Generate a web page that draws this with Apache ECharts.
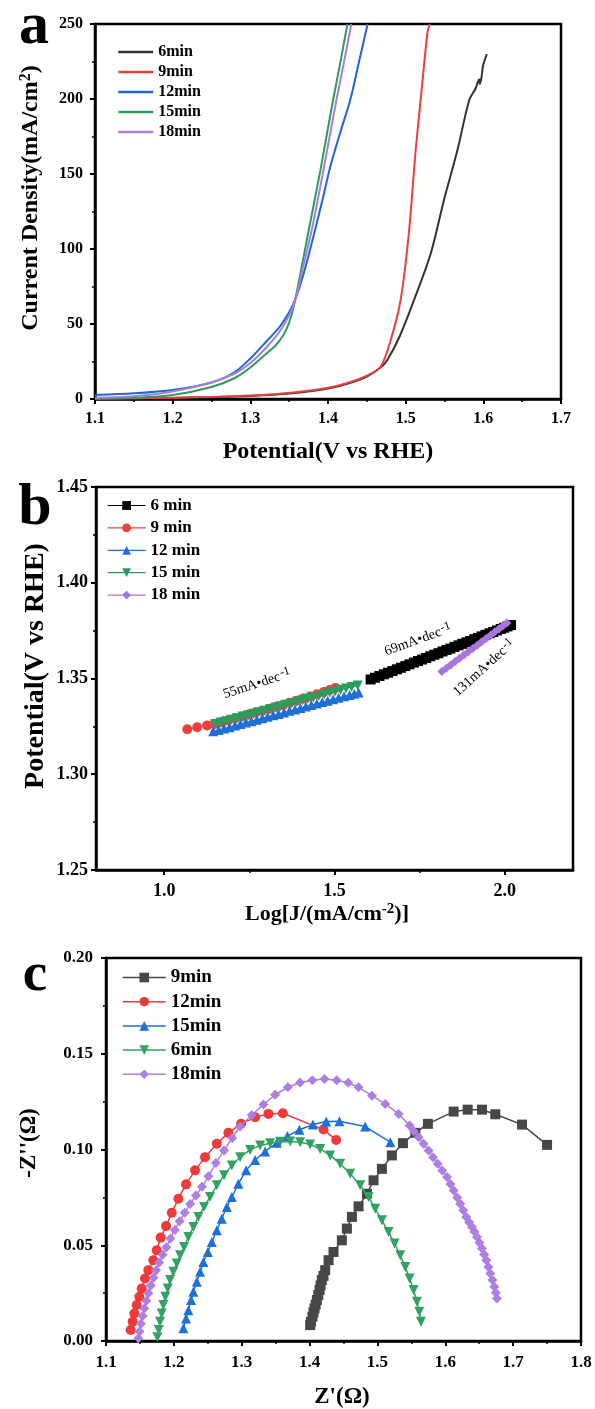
<!DOCTYPE html>
<html><head><meta charset="utf-8">
<script src="https://cdn.jsdelivr.net/npm/echarts@6/dist/echarts.min.js"></script>
<style>html,body{margin:0;padding:0;background:#fff}#c{width:595px;height:1409px}</style>
</head><body><div id="c"></div>
<script>
const FONT = '"Liberation Serif","Times New Roman",serif';

// ---------- Panel a : LSV ----------
const lsvNames = ['6min','9min','12min','15min','18min'];
const lsv6 = [[1.10,0.2],[1.15,0.4],[1.20,0.7],[1.25,1.2],[1.30,2.0],[1.35,3.6],[1.40,7.0],[1.43,11],[1.45,15],[1.4677,21],[1.4764,26],[1.4925,42],[1.5108,66],[1.5323,97],[1.5495,133],[1.5667,166],[1.5817,199],[1.5900,207],[1.5946,213],[1.5955,210],[1.5975,214],[1.5995,222],[1.6025,227],[1.6045,230]];
const lsv9 = [[1.10,0.3],[1.15,0.5],[1.20,0.9],[1.25,1.4],[1.30,2.3],[1.35,4.0],[1.40,7.5],[1.43,11.5],[1.45,15.5],[1.4677,21.5],[1.4806,39],[1.4935,66],[1.504,110],[1.5129,166],[1.5215,211],[1.528,244],[1.531,250]];
const lsv12 = [[1.10,2.7],[1.15,3.8],[1.20,6],[1.25,11],[1.28,18],[1.30,27],[1.32,38],[1.339,49],[1.356,64],[1.37,86],[1.382,110],[1.393,133],[1.403,155],[1.416,178],[1.429,200],[1.44,225],[1.451,250]];
const lsv15 = [[1.10,0.2],[1.15,0.8],[1.20,2.7],[1.25,8],[1.28,14],[1.30,21],[1.32,30],[1.333,36],[1.343,43],[1.350,51],[1.356,62],[1.365,85],[1.375,112],[1.390,152],[1.405,195],[1.415,222],[1.425,250]];
const lsv18 = [[1.10,0.8],[1.15,1.8],[1.20,5],[1.25,11],[1.28,17],[1.30,24],[1.32,34],[1.339,46],[1.356,63],[1.368,88],[1.380,115],[1.395,155],[1.410,197],[1.420,223],[1.430,250]];
const lsvColors = ['#333333','#e8403f','#2166d2','#2f9b5b','#a57fe0'];

// ---------- Panel b : Tafel ----------
const tafNames = ['6 min','9 min','12 min','15 min','18 min'];
const taf6 = [[1.606,1.3495],[1.619,1.3504],[1.632,1.3513],[1.645,1.3522],[1.657,1.3530],[1.670,1.3539],[1.683,1.3548],[1.695,1.3556],[1.708,1.3565],[1.720,1.3574],[1.733,1.3583],[1.745,1.3591],[1.757,1.3599],[1.769,1.3607],[1.781,1.3616],[1.793,1.3624],[1.805,1.3632],[1.817,1.3641],[1.829,1.3649],[1.840,1.3656],[1.852,1.3665],[1.864,1.3673],[1.875,1.3681],[1.887,1.3689],[1.898,1.3696],[1.910,1.3705],[1.921,1.3712],[1.932,1.3720],[1.943,1.3728],[1.955,1.3736],[1.966,1.3743],[1.977,1.3751],[1.988,1.3759],[1.998,1.3765],[2.008,1.3772],[2.018,1.3779]];
const taf9 = [[1.068,1.3235],[1.097,1.3245],[1.126,1.3255],[1.148,1.3263],[1.168,1.3272],[1.188,1.3282],[1.208,1.3292],[1.228,1.3302],[1.248,1.3312],[1.268,1.3322],[1.288,1.3332],[1.308,1.3342],[1.328,1.3352],[1.348,1.3362],[1.368,1.3373],[1.388,1.3384],[1.408,1.3395],[1.428,1.3406],[1.448,1.3418],[1.468,1.3429],[1.486,1.3440],[1.503,1.3451]];
const taf12 = [[1.144,1.3224],[1.160,1.3231],[1.176,1.3239],[1.192,1.3246],[1.208,1.3254],[1.224,1.3262],[1.240,1.3270],[1.256,1.3277],[1.272,1.3285],[1.288,1.3293],[1.304,1.3300],[1.320,1.3308],[1.336,1.3315],[1.352,1.3323],[1.368,1.3331],[1.384,1.3338],[1.400,1.3346],[1.416,1.3354],[1.432,1.3361],[1.448,1.3369],[1.464,1.3377],[1.480,1.3384],[1.496,1.3392],[1.512,1.3399],[1.528,1.3407],[1.544,1.3414],[1.558,1.3421],[1.571,1.3427]];
const taf15 = [[1.150,1.3262],[1.166,1.3270],[1.182,1.3277],[1.198,1.3285],[1.214,1.3293],[1.230,1.3301],[1.246,1.3308],[1.262,1.3316],[1.278,1.3324],[1.294,1.3332],[1.310,1.3339],[1.326,1.3347],[1.342,1.3355],[1.358,1.3363],[1.374,1.3370],[1.390,1.3378],[1.406,1.3386],[1.422,1.3394],[1.438,1.3401],[1.454,1.3409],[1.470,1.3417],[1.486,1.3425],[1.502,1.3432],[1.518,1.3440],[1.534,1.3448],[1.550,1.3456],[1.568,1.3464]];
const taf18 = [[1.815,1.3537],[1.828,1.3554],[1.841,1.3571],[1.854,1.3589],[1.867,1.3606],[1.880,1.3623],[1.893,1.3640],[1.906,1.3657],[1.919,1.3674],[1.932,1.3692],[1.945,1.3709],[1.958,1.3726],[1.970,1.3743],[1.982,1.3759],[1.994,1.3774],[2.006,1.3790]];
const tafColors = ['#000000','#ee4040','#1f6fd6','#2a9d5c','#a577dc'];
const tafSymbols = ['rect','circle','triangle','triangle','diamond'];
const tafRot = [0,0,0,180,0];
const tafXTicks = [1.0,1.5,2.0];
const tafXMinor = [1.25,1.75];
const tafSlopes = ['55','69','131'];

// ---------- Panel c : Nyquist ----------
const eisNames = ['9min','12min','15min','6min','18min'];
const eis9 = [[1.4009,0.0083],[1.4020,0.0100],[1.4043,0.0127],[1.4058,0.0150],[1.4073,0.0170],[1.4090,0.0190],[1.4108,0.0214],[1.4128,0.0240],[1.4147,0.0266],[1.4162,0.0290],[1.4180,0.0318],[1.4205,0.0340],[1.4230,0.0370],[1.4280,0.0422],[1.4353,0.0465],[1.4476,0.0526],[1.4550,0.0587],[1.4624,0.0648],[1.4722,0.0703],[1.4845,0.0769],[1.4943,0.0839],[1.5066,0.0899],[1.5213,0.0969],[1.5376,0.1033],[1.5558,0.1087],[1.5744,0.1134],[1.6123,0.1198],[1.6330,0.1208],[1.6541,0.1208],[1.6737,0.1184],[1.7131,0.1130],[1.7500,0.1024]];
const eis12 = [[1.1364,0.0057],[1.1393,0.0101],[1.1418,0.0144],[1.1452,0.0188],[1.1492,0.0231],[1.1526,0.0274],[1.1575,0.0326],[1.1624,0.0370],[1.1698,0.0422],[1.1747,0.0474],[1.1806,0.0540],[1.1885,0.0600],[1.1969,0.0670],[1.2067,0.0743],[1.2180,0.0818],[1.2313,0.0891],[1.2460,0.0960],[1.2633,0.1030],[1.2804,0.1087],[1.2991,0.1134],[1.3198,0.1168],[1.3394,0.1186],[1.3606,0.1189],[1.4206,0.1104],[1.4392,0.1050]];
const eis15 = [[1.2140,0.0066],[1.2180,0.0118],[1.2214,0.0161],[1.2254,0.0214],[1.2288,0.0257],[1.2338,0.0309],[1.2386,0.0361],[1.2435,0.0413],[1.2500,0.0465],[1.2559,0.0517],[1.2633,0.0578],[1.2706,0.0639],[1.2780,0.0700],[1.2854,0.0752],[1.2951,0.0821],[1.3065,0.0891],[1.3198,0.0945],[1.3345,0.0990],[1.3518,0.1035],[1.3674,0.1070],[1.3850,0.1103],[1.4050,0.1130],[1.4245,0.1146],[1.4440,0.1147],[1.4820,0.1120],[1.5190,0.1038]];
const eis6 = [[1.1757,0.0019],[1.1777,0.0057],[1.1796,0.0101],[1.1821,0.0144],[1.1845,0.0188],[1.1875,0.0231],[1.1910,0.0274],[1.1944,0.0318],[1.1993,0.0361],[1.2042,0.0405],[1.2091,0.0448],[1.2150,0.0491],[1.2214,0.0543],[1.2288,0.0595],[1.2361,0.0648],[1.2445,0.0700],[1.2534,0.0752],[1.2633,0.0813],[1.2740,0.0865],[1.2854,0.0917],[1.2976,0.0960],[1.3124,0.0998],[1.3271,0.1021],[1.3419,0.1033],[1.3566,0.1040],[1.3714,0.1042],[1.3861,0.1038],[1.4009,0.1026],[1.4156,0.1003],[1.4304,0.0969],[1.4451,0.0925],[1.4599,0.0873],[1.4746,0.0813],[1.4869,0.0752],[1.4968,0.0691],[1.5066,0.0630],[1.5164,0.0569],[1.5253,0.0509],[1.5336,0.0448],[1.5410,0.0387],[1.5474,0.0326],[1.5533,0.0266],[1.5582,0.0205],[1.5617,0.0153],[1.5641,0.0100]];
const eis18 = [[1.1477,0.0014],[1.1495,0.0050],[1.1515,0.0090],[1.1540,0.0130],[1.1565,0.0170],[1.1595,0.0210],[1.1625,0.0250],[1.1660,0.0290],[1.1700,0.0330],[1.1740,0.0370],[1.1785,0.0410],[1.1835,0.0450],[1.1890,0.0490],[1.1950,0.0535],[1.2015,0.0580],[1.2085,0.0625],[1.2160,0.0670],[1.2240,0.0715],[1.2325,0.0760],[1.2415,0.0805],[1.2510,0.0860],[1.2620,0.0930],[1.2740,0.0995],[1.2860,0.1060],[1.2976,0.1120],[1.3149,0.1180],[1.3320,0.1235],[1.3493,0.1286],[1.3680,0.1325],[1.3861,0.1350],[1.4040,0.1362],[1.4220,0.1368],[1.4400,0.1362],[1.4570,0.1348],[1.4722,0.1325],[1.4919,0.1281],[1.5115,0.1238],[1.5312,0.1186],[1.5474,0.1125],[1.5535,0.1095],[1.5607,0.1064],[1.5680,0.1030],[1.5754,0.0995],[1.5820,0.0960],[1.5887,0.0925],[1.5955,0.0890],[1.6025,0.0856],[1.6075,0.0820],[1.6123,0.0786],[1.6175,0.0750],[1.6221,0.0717],[1.6265,0.0683],[1.6310,0.0648],[1.6352,0.0620],[1.6394,0.0595],[1.6430,0.0570],[1.6467,0.0543],[1.6504,0.0513],[1.6541,0.0483],[1.6573,0.0452],[1.6605,0.0422],[1.6635,0.0387],[1.6664,0.0352],[1.6694,0.0318],[1.6723,0.0283],[1.6745,0.0252],[1.6762,0.0222]];
const eisColors = ['#474747','#ee3a3a','#1c6fdf','#33a163','#ad7fe3'];
const eisSymbols = ['rect','circle','triangle','triangle','diamond'];
const eisRot = [0,0,0,180,0];

// ---------- build ----------
function mkAxis(gridIndex, min, max, interval, fmt, fs, margin, extra) {
  const ax = {
    type:'value', gridIndex, min, max, interval,
    axisLine:{show:true,onZero:false,lineStyle:{color:'#000',width:2.5}},
    axisTick:{show:true,inside:false,length:5,lineStyle:{color:'#000',width:2}},
    minorTick:{show:true,splitNumber:2,length:3,lineStyle:{color:'#000',width:1.5}},
    splitLine:{show:false}, minorSplitLine:{show:false},
    axisLabel:{color:'#000',fontFamily:FONT,fontWeight:'bold',fontSize:fs,margin:margin,formatter:fmt}
  };
  return Object.assign(ax, extra || {});
}

const series = [];
const lsvData = [lsv6,lsv9,lsv12,lsv15,lsv18];
lsvData.forEach((d,i)=>{
  series.push({name:'a:'+lsvNames[i], type:'line', xAxisIndex:0, yAxisIndex:0, data:d,
    smooth:0.3, showSymbol:false, symbol:'circle', lineStyle:{color:lsvColors[i],width:2}, itemStyle:{color:lsvColors[i]}, z:2+i});
});
const tafData = [taf6,taf9,taf12,taf15,taf18];
const tafSize = [10,10,10,10,9];
tafData.forEach((d,i)=>{
  series.push({name:tafNames[i], type:'line', xAxisIndex:1, yAxisIndex:1, data:d,
    symbol:tafSymbols[i], symbolRotate:tafRot[i], symbolSize:tafSize[i],
    lineStyle:{color:tafColors[i],width:1}, itemStyle:{color:tafColors[i]}, z:2+i});
});
const eisData = [eis9,eis12,eis15,eis6,eis18];
eisData.forEach((d,i)=>{
  series.push({name:'c:'+eisNames[i], type:'line', xAxisIndex:2, yAxisIndex:2, data:d,
    symbol:eisSymbols[i], symbolRotate:eisRot[i], symbolSize:10,
    lineStyle:{color:eisColors[i],width:1.5}, itemStyle:{color:eisColors[i]}, z:2+i});
});

const legendText = (size)=>({color:'#000',fontFamily:FONT,fontWeight:'bold',fontSize:size});

const supRich = (main, sup) => ({
  m:{fontFamily:FONT,fontWeight:'bold',fontSize:main,fill:'#000',lineHeight:main+2},
  s:{fontFamily:FONT,fontWeight:'bold',fontSize:sup,fill:'#000',verticalAlign:'top',padding:[0,0,8,0]}
});
function tText(x,y,text,size,rot,rich){
  return {type:'text', x, y, rotation:rot||0, z:100,
    style:{text, fill:'#000', font:'bold '+size+'px '+FONT, align:'center', verticalAlign:'middle', rich}};
}
function slopeText(x,y,val,rotDeg){
  return {type:'text', x, y, rotation:rotDeg*Math.PI/180, z:100,
    style:{text:'{m|'+val+'mA•dec}{s|-1}', align:'center', verticalAlign:'middle',
      rich:{m:{fontFamily:FONT,fontSize:14,fill:'#000',lineHeight:16},
            s:{fontFamily:FONT,fontSize:12,fill:'#000',verticalAlign:'top',padding:[0,0,6,1]}}}};
}

const option = {
  animation:false,
  backgroundColor:'#fff',
  grid:[
    {left:95, top:24, width:466, height:375, show:true, borderColor:'#000', borderWidth:2.5, backgroundColor:'transparent'},
    {left:96, top:487, width:477, height:383, show:true, borderColor:'#000', borderWidth:2.5, backgroundColor:'transparent'},
    {left:106, top:958, width:475, height:383, show:true, borderColor:'#000', borderWidth:2.5, backgroundColor:'transparent'}
  ],
  xAxis:[
    mkAxis(0,1.1,1.7,0.1,v=>v.toFixed(1),16,12),
    mkAxis(1,0.8,2.2,null,v=>v.toFixed(1),18,12,{
      axisTick:{show:true,length:5,customValues:tafXTicks,lineStyle:{color:'#000',width:2}},
      minorTick:{show:false},
      axisLabel:{color:'#000',fontFamily:FONT,fontWeight:'bold',fontSize:18,margin:12,customValues:tafXTicks,formatter:v=>v.toFixed(1)}
    }),
    mkAxis(2,1.1,1.8,0.1,v=>v.toFixed(1),17,13),
    mkAxis(1,0.8,2.2,null,null,18,12,{
      position:'bottom', offset:0,
      axisLine:{show:false},
      axisTick:{show:true,length:3,customValues:tafXMinor,lineStyle:{color:'#000',width:1.5}},
      minorTick:{show:false},
      axisLabel:{show:false}
    })
  ],
  yAxis:[
    mkAxis(0,0,250,50,v=>String(v),16,12),
    mkAxis(1,1.25,1.45,0.05,v=>v.toFixed(2),18,8),
    mkAxis(2,0,0.20,0.05,v=>v.toFixed(2),17,13)
  ],
  legend:[
    {data:lsvNames.map(n=>'a:'+n), formatter:n=>n.slice(2), orient:'vertical', left:117, top:44, padding:0,
     itemWidth:35, itemHeight:14, itemGap:4, textStyle:legendText(16), selectedMode:false,
     itemStyle:{opacity:0}, lineStyle:{width:2.5}},
    {data:tafNames, orient:'vertical', left:107, top:497, padding:0,
     itemWidth:38, itemHeight:11, itemGap:5.4, textStyle:legendText(17), selectedMode:false,
     lineStyle:{width:1.2}},
    {data:eisNames.map(n=>'c:'+n), formatter:n=>n.slice(2), orient:'vertical', left:122, top:968, padding:0,
     itemWidth:43, itemHeight:12, itemGap:5.2, textStyle:legendText(19), selectedMode:false,
     lineStyle:{width:1.5}}
  ],
  graphic:[
    tText(34,27,'a',60,0),
    tText(35,508,'b',60,0),
    tText(35,976,'c',55,0),
    tText(31,198,'{m|Current Density(mA/cm}{s|2}{m|)}',24,Math.PI/2,supRich(24,16)),
    tText(328,452,'Potential(V vs RHE)',24,0),
    tText(36,666,'Potential(V vs RHE)',28,Math.PI/2),
    tText(327,914,'{m|Log[J/(mA/cm}{s|-2}{m|)]}',22,0,supRich(22,15)),
    tText(29,1143,"-Z''(Ω)",23,Math.PI/2),
    tText(342,1397,"Z'(Ω)",23,0),
    slopeText(257,684,tafSlopes[0],18),
    slopeText(418,640,tafSlopes[1],20),
    slopeText(484,668,tafSlopes[2],42)
  ],
  series
};
const chart = echarts.init(document.getElementById('c'), null, {renderer:'canvas'});
chart.setOption(option);
</script></body></html>
